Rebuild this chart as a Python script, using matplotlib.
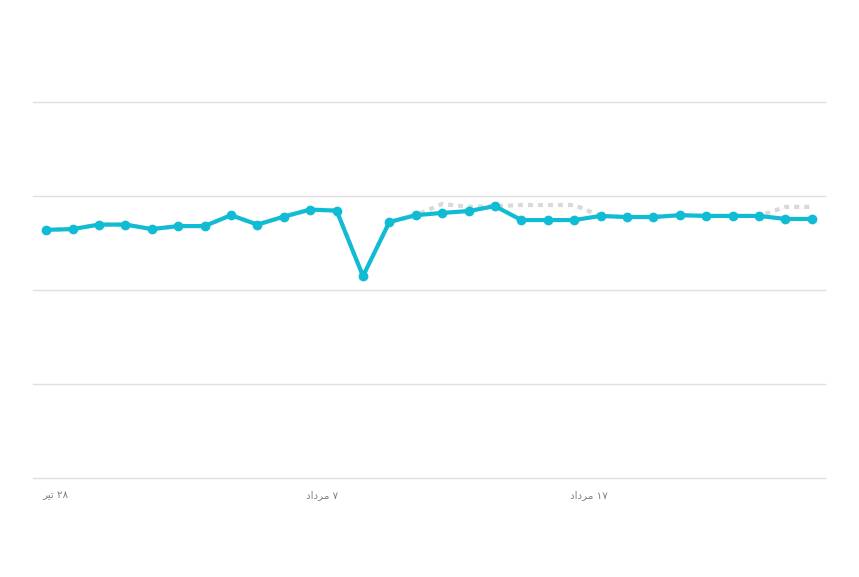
import matplotlib
matplotlib.use("Agg")
from matplotlib import pyplot as plt

# daily values, 28 Tir .. 27 Mordad
days = list(range(30))
current = [66.0, 66.2, 67.4, 67.4, 66.2, 67.0, 67.0, 69.9, 67.4, 69.5,
           71.4, 71.1, 53.7, 68.1, 69.9, 70.5, 71.0, 72.3, 68.6, 68.6,
           68.6, 69.7, 69.4, 69.4, 69.9, 69.7, 69.7, 69.7, 68.9, 68.9]
previous = [66.0, 66.2, 67.4, 67.4, 66.2, 67.0, 67.0, 69.9, 67.4, 69.5,
            71.4, 71.1, 53.7, 68.1, 69.9, 72.9, 72.1, 72.3, 72.6, 72.6,
            72.6, 69.7, 69.4, 69.4, 69.9, 69.7, 69.7, 69.7, 72.1, 72.1]

# tick labels (shaped presentation forms, visual order)
tick_pos = [0, 10, 20]
tick_labels = ["ﺮﯿﺗ ۲۸", "ﺩﺍﺩﺮﻣ ۷", "ﺩﺍﺩﺮﻣ ۱۷"]

fig = plt.figure(figsize=(8.59, 5.77), dpi=100)
ax = fig.add_axes([33 / 859, 1 - 478 / 577, 792 / 859, 376 / 577])

ax.plot(days, previous, color="#d9d9d9", lw=3, ls=(0, (1.2, 1.2)), zorder=2)
ax.plot(days, current, color="#10bcd4", lw=3, marker="o", ms=6, zorder=3)

ax.set_xlim(-0.5, 29.5)
ax.set_ylim(0, 100)
ax.set_yticks([0, 25, 50, 75, 100])
ax.yaxis.grid(True, color="#e0e0e0", lw=1)
for gl in ax.get_ygridlines():
    gl.set_clip_on(False)
ax.set_axisbelow(True)
ax.tick_params(left=False, bottom=False, labelleft=False, labelbottom=False)
for s in ax.spines.values():
    s.set_visible(False)

for pos, lab in zip(tick_pos, tick_labels):
    ax.annotate(lab, xy=(pos, 0), xycoords=("data", "axes fraction"),
                xytext=(-3, -12.5), textcoords="offset points",
                ha="left", va="center", fontsize=7.5, color="#808080",
                family=["DejaVu Sans"])

fig.savefig("out.png", dpi=100, facecolor="white")
